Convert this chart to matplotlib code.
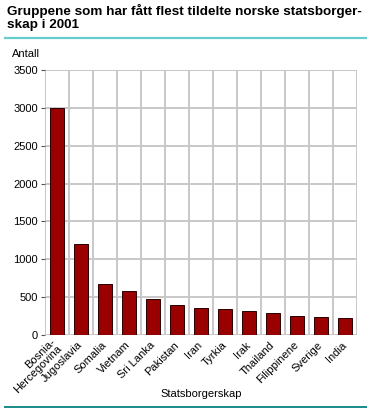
import matplotlib
matplotlib.use("Agg")
import matplotlib.pyplot as plt
import numpy as np
from matplotlib.lines import Line2D

plt.rcParams['font.family'] = ['Liberation Sans', 'DejaVu Sans']

# data
countries = ["Bosnia-\nHercegovina", "Jugoslavia", "Somalia", "Vietnam", "Sri Lanka",
             "Pakistan", "Iran", "Tyrkia", "Irak", "Thailand", "Filippinene",
             "Sverige", "India"]
counts = [3000, 1205, 668, 580, 475, 395, 355, 342, 315, 290, 250, 237, 228]
yticks = [0, 500, 1000, 1500, 2000, 2500, 3000, 3500]

title1 = "Gruppene som har fått flest tildelte norske statsborger-"
title2 = "skap i 2001"

grid_col = "#c8c8c8"
bar_col = "#990000"
fs = 8

fig = plt.figure(figsize=(3.67, 4.08), dpi=100)
ax = fig.add_axes([0.1226, 0.1789, 0.85, 0.6495])

x = np.arange(len(countries))
ax.bar(x, counts, width=0.56, color=bar_col, edgecolor="#2a0000", linewidth=0.7, zorder=3)

ax.set_xlim(-0.5, len(countries) - 0.5)
ax.set_ylim(0, 3500)
ax.set_yticks(yticks)
ax.set_yticklabels([str(v) for v in yticks], fontsize=fs)

# vertical grid between the categories
for b in np.arange(-0.5, len(countries), 1.0):
    ax.axvline(b, color=grid_col, lw=1.4, zorder=1)
for v in yticks:
    ax.axhline(v, color=grid_col, lw=1.4, zorder=1)

ax.set_xticks(x)
ax.set_xticklabels(countries, rotation=45, ha="right", va="center",
                   rotation_mode="anchor", fontsize=fs, linespacing=0.85)
ax.tick_params(axis="x", length=0, pad=6)
ax.tick_params(axis="y", length=3, width=0.8, color="#555555", pad=2)
for s in ax.spines.values():
    s.set_visible(False)

fig.text(0.548, 0.027, "Statsborgerskap", fontsize=fs, ha="center", va="baseline")
fig.text(0.033, 0.861, "Antall", fontsize=fs, va="baseline")

fig.text(0.019, 0.963, title1, fontsize=9.7, fontweight="bold", va="baseline")
fig.text(0.019, 0.931, title2, fontsize=9.7, fontweight="bold", va="baseline")
fig.add_artist(Line2D([0.014, 1.0], [0.907, 0.907], color="#66cccc", lw=1.6))
fig.add_artist(Line2D([0.014, 1.0], [0.003, 0.003], color="#1a8a8a", lw=1.4))

fig.savefig("out.png", dpi=100)
